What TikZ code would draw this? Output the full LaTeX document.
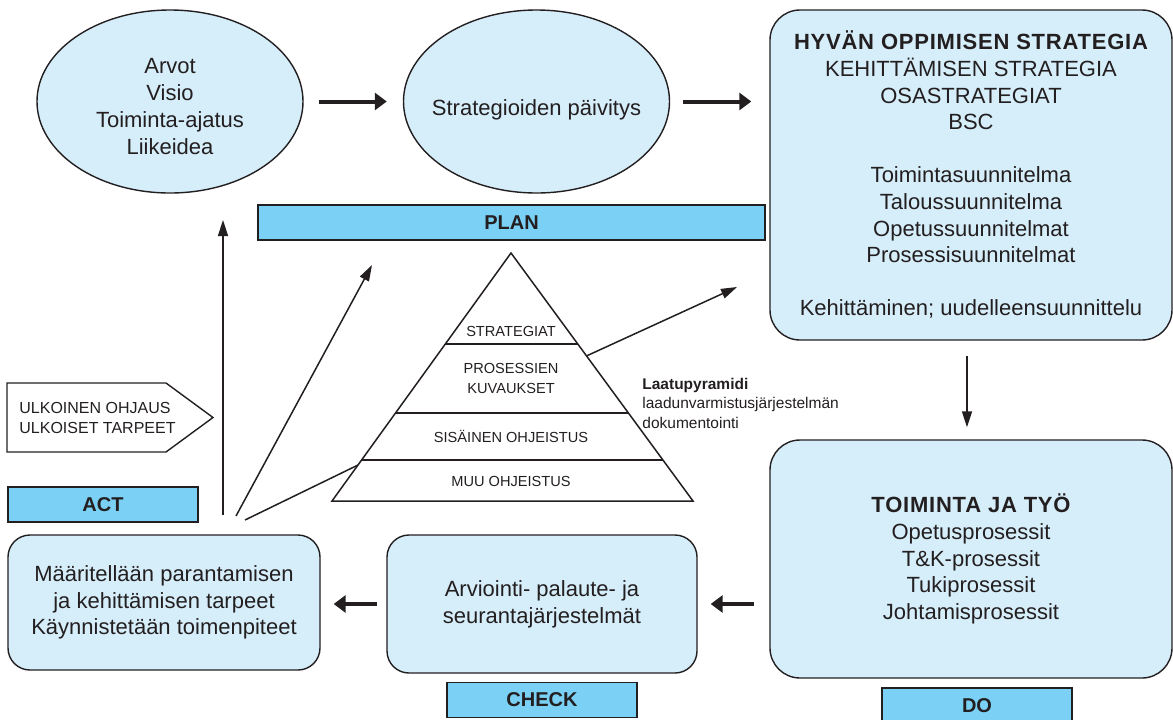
\documentclass[tikz,border=0pt]{standalone}
\usepackage{fontspec}
\setmainfont{Liberation Sans}
\usetikzlibrary{shapes,arrows.meta,calc}
\definecolor{paleblue}{RGB}{214,238,250}
\definecolor{tagblue}{RGB}{122,208,245}
\definecolor{ink}{RGB}{35,31,32}
\newcommand{\spaced}[1]{{\bfseries\addfontfeatures{LetterSpace=3.5}#1}}
\newcommand{\lift}[1]{\rule{0pt}{#1}}
\tikzstyle{bubble} = [draw=ink, fill=paleblue, ellipse, line width=0.7pt, minimum width=133pt, minimum height=91.5pt, inner sep=0pt, align=center, text=ink, font=\fontsize{11}{13.5}\selectfont]
\tikzstyle{panel} = [draw=ink, fill=paleblue, line width=0.7pt, rounded corners=15pt, inner sep=0pt, align=center, text=ink, font=\fontsize{11}{13.3}\selectfont]
\tikzstyle{tag} = [draw=ink, fill=tagblue, line width=0.7pt, minimum height=17.5pt, inner sep=0pt, text=ink, font=\fontsize{10}{12}\bfseries]
\tikzstyle{layer} = [text=ink, align=center, inner sep=0pt, font=\fontsize{7.3}{9.75}\selectfont]
\tikzstyle{fat} = [-{Triangle[length=6pt,width=8.5pt]}, line width=2pt, ink]
\tikzstyle{slim} = [-{Triangle[length=8pt,width=5pt]}, line width=0.75pt, ink]
\tikzstyle{plain} = [line width=0.75pt, draw=ink]

\begin{document}
\begin{tikzpicture}[x=0.5pt,y=-0.5pt]
\useasboundingbox (0,0) rectangle (1173,719);

\node[bubble] (arvot) at (170,101.5) {\lift{13pt}Arvot\\Visio\\Toiminta-ajatus\\Liikeidea};
\node[bubble, inner xsep=-20pt] (paiv) at (536.5,101.5) {\lift{16pt}Strategioiden päivitys};
\node[panel, minimum width=201pt, minimum height=165pt] (strat) at (971,175) {\spaced{HYVÄN OPPIMISEN STRATEGIA}\\KEHITTÄMISEN STRATEGIA\\OSASTRATEGIAT\\BSC\\[13.3pt]Toimintasuunnitelma\\Taloussuunnitelma\\Opetussuunnitelmat\\Prosessisuunnitelmat\\[13.3pt]Kehittäminen; uudelleensuunnittelu};
\node[panel, minimum width=201pt, minimum height=119pt] (toim) at (971,559) {\spaced{TOIMINTA JA TYÖ}\\Opetusprosessit\\T\&K-prosessit\\Tukiprosessit\\Johtamisprosessit};
\node[panel, rounded corners=11pt, minimum width=155pt, minimum height=69pt] (arvi) at (542,604) {Arviointi- palaute- ja\\seurantajärjestelmät};
\node[panel, rounded corners=11pt, minimum width=156pt, minimum height=67.5pt] (maar) at (164,602.5) {Määritellään parantamisen\\ja kehittämisen tarpeet\\Käynnistetään toimenpiteet};

\node[tag, minimum width=253.5pt] (plan) at (511.5,222.5) {PLAN};
\node[tag, minimum width=95pt] (act) at (103,504.5) {ACT};
\node[tag, minimum width=95pt] (check) at (542,700) {CHECK};
\node[tag, minimum width=95pt, minimum height=18pt] (do) at (977,706) {DO};

\draw[plain, line width=0.7pt] (7,383) -- (166,383) -- (213,417.5) -- (166,452) -- (7,452) -- cycle;
\node[anchor=west, align=left, inner sep=0pt, text=ink, font=\fontsize{8}{10}\selectfont] (ulk) at (19,418) {ULKOINEN OHJAUS\\ULKOISET TARPEET};

\coordinate (apex) at (511,253);
\coordinate (bl) at (332,501);
\coordinate (br) at (693,501);
\draw[plain] (apex) -- (bl) -- (br) -- cycle;
\foreach \t in {0.367,0.645,0.835}
  \draw[plain] ($(apex)!\t!(bl)$) -- ($(apex)!\t!(br)$);
\node[layer] (lay1) at (511,331.5) {STRATEGIAT};
\node[layer] (lay2) at (511,378.5) {PROSESSIEN\\KUVAUKSET};
\node[layer] (lay3) at (511,436.5) {SISÄINEN OHJEISTUS};
\node[layer] (lay4) at (511,481) {MUU OHJEISTUS};
\node[anchor=west, align=left, inner sep=0pt, text=ink, font=\fontsize{7.75}{9.75}\selectfont] (laatu) at (642,403) {\textbf{Laatupyramidi}\\laadunvarmistusjärjestelmän\\dokumentointi};

\coordinate (f1) at (223,515);
\coordinate (f2) at (236,516);
\coordinate (f3) at (245,520);
\coordinate (g1) at (223,220);
\coordinate (g2) at (372,265);
\coordinate (g4) at (737,287);

  \path[fat]
    (arvot) edge [shorten <=7.5pt, shorten >=8pt] (paiv)
    (paiv.east) edge [shorten <=6.5pt, shorten >=9pt] (paiv.east -| strat.west)
    (toim.west |- arvi.east) edge [shorten <=7.5pt, shorten >=6.5pt] (arvi.east)
    (arvi.west) edge [shorten <=4.5pt, shorten >=6.5pt] (arvi.west -| maar.east);

  \path[slim]
    ([xshift=-2pt]strat.south) edge [shorten <=7.5pt, shorten >=6pt] ([xshift=-2pt]toim.north)
    (f1) edge [] (g1)
    (f2) edge [] (g2)
    ($(apex)!0.415!(br)$) edge [] (g4);

  \draw[plain] (f3) -- ($(apex)!0.855!(bl)$);

\end{tikzpicture}
\end{document}
